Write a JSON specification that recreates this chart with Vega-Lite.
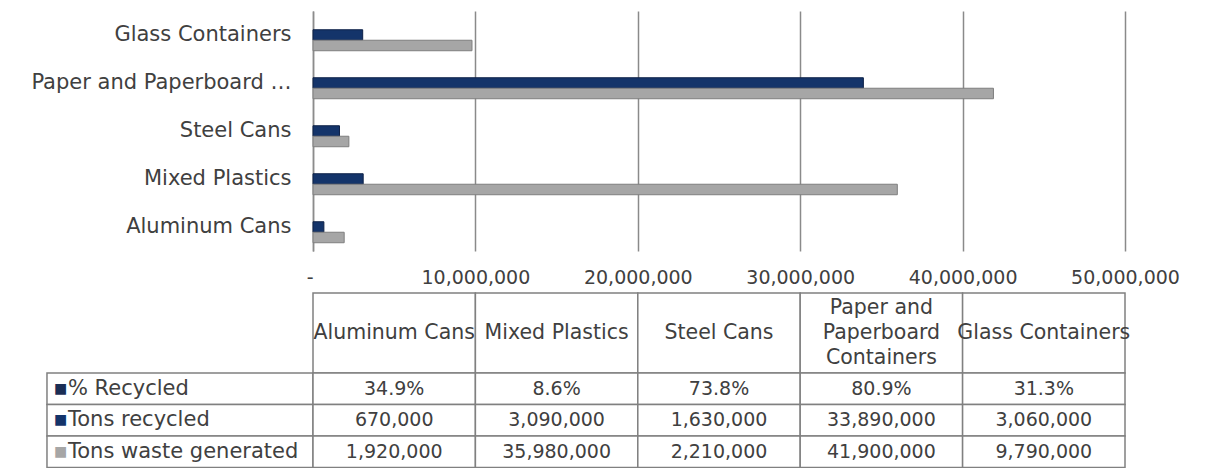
{
  "$schema": "https://vega.github.io/schema/vega-lite/v6.json",
  "padding": {"left": 0, "top": 11, "right": 0, "bottom": 0},
  "config": {
    "view": {"stroke": null},
    "font": "DejaVu Sans",
    "text": {"font": "DejaVu Sans"},
    "axis": {"labelFont": "DejaVu Sans"}
  },
  "datasets": {
    "waste": [
      {"category": "Aluminum Cans", "series": "% Recycled", "value": 0.349},
      {"category": "Aluminum Cans", "series": "Tons recycled", "value": 670000},
      {"category": "Aluminum Cans", "series": "Tons waste generated", "value": 1920000},
      {"category": "Mixed Plastics", "series": "% Recycled", "value": 0.086},
      {"category": "Mixed Plastics", "series": "Tons recycled", "value": 3090000},
      {"category": "Mixed Plastics", "series": "Tons waste generated", "value": 35980000},
      {"category": "Steel Cans", "series": "% Recycled", "value": 0.738},
      {"category": "Steel Cans", "series": "Tons recycled", "value": 1630000},
      {"category": "Steel Cans", "series": "Tons waste generated", "value": 2210000},
      {"category": "Paper and Paperboard Containers", "series": "% Recycled", "value": 0.809},
      {"category": "Paper and Paperboard Containers", "series": "Tons recycled", "value": 33890000},
      {"category": "Paper and Paperboard Containers", "series": "Tons waste generated", "value": 41900000},
      {"category": "Glass Containers", "series": "% Recycled", "value": 0.313},
      {"category": "Glass Containers", "series": "Tons recycled", "value": 3060000},
      {"category": "Glass Containers", "series": "Tons waste generated", "value": 9790000}
    ],
    "headers": [
      {"category": "Aluminum Cans", "header": "Aluminum Cans"},
      {"category": "Mixed Plastics", "header": "Mixed Plastics"},
      {"category": "Steel Cans", "header": "Steel Cans"},
      {"category": "Paper and Paperboard Containers", "header": "Paper and\nPaperboard\nContainers"},
      {"category": "Glass Containers", "header": "Glass Containers"}
    ]
  },
  "columns": 2,
  "spacing": 0,
  "bounds": "flush",
  "concat": [
    {
      "width": 313,
      "height": 282,
      "data": {"name": "headers"},
      "mark": {"type": "text", "text": ""},
      "encoding": {}
    },
    {
      "width": 812,
      "height": 240,
      "data": {"name": "waste"},
      "mark": {"type": "bar", "strokeWidth": 1},
      "encoding": {
        "y": {
          "field": "category",
          "type": "nominal",
          "sort": ["Glass Containers", "Paper and Paperboard Containers", "Steel Cans", "Mixed Plastics", "Aluminum Cans"],
          "scale": {"paddingInner": 0.344, "paddingOuter": 0.172},
          "axis": {
            "title": null,
            "ticks": false,
            "domain": true,
            "domainColor": "#8c8c8c",
            "domainWidth": 1.5,
            "grid": false,
            "labelFontSize": 21,
            "labelColor": "#404040",
            "labelPadding": 22,
            "labelLimit": 262
          }
        },
        "yOffset": {
          "field": "series",
          "type": "nominal",
          "sort": ["% Recycled", "Tons recycled", "Tons waste generated"],
          "scale": {"paddingInner": 0, "paddingOuter": 0}
        },
        "x": {
          "field": "value",
          "type": "quantitative",
          "scale": {"domain": [0, 50000000], "nice": false},
          "axis": {
            "title": null,
            "values": [0, 10000000, 20000000, 30000000, 40000000, 50000000],
            "labelExpr": "datum.value == 0 ? '-' : format(datum.value, ',')",
            "labelAlign": {"condition": {"test": "datum.value == 0", "value": "right"}, "value": "center"},
            "grid": true,
            "gridColor": "#8a8a8a",
            "gridWidth": 1.5,
            "domain": false,
            "ticks": false,
            "labelFontSize": 19,
            "labelColor": "#404040",
            "labelPadding": 17,
            "labelFlush": false,
            "labelOverlap": false,
            "labelBound": false
          }
        },
        "color": {
          "field": "series",
          "type": "nominal",
          "scale": {"domain": ["% Recycled", "Tons recycled", "Tons waste generated"], "range": ["#1b2e55", "#14346a", "#a6a6a6"]},
          "legend": null
        },
        "stroke": {
          "field": "series",
          "type": "nominal",
          "scale": {"domain": ["% Recycled", "Tons recycled", "Tons waste generated"], "range": ["rgba(0,0,0,0)", "#0d2047", "#7f7f7f"]},
          "legend": null
        }
      }
    },
    {
      "width": 313,
      "height": 80,
      "data": {"name": "headers"},
      "mark": {"type": "text", "text": ""},
      "encoding": {}
    },
    {
      "width": 812,
      "height": 80,
      "data": {"name": "headers"},
      "encoding": {
        "x": {
          "field": "category",
          "type": "nominal",
          "sort": ["Aluminum Cans", "Mixed Plastics", "Steel Cans", "Paper and Paperboard Containers", "Glass Containers"],
          "scale": {"paddingInner": 0, "paddingOuter": 0},
          "axis": null
        }
      },
      "layer": [
        {"mark": {"type": "rect", "fill": "white", "stroke": "#808080", "strokeWidth": 1.5}},
        {
          "transform": [{"filter": "datum.category != 'Paper and Paperboard Containers'"}],
          "mark": {"type": "text", "fontSize": 20.5, "color": "#404040"},
          "encoding": {"text": {"field": "header", "type": "nominal"}}
        },
        {
          "transform": [{"filter": "datum.category == 'Paper and Paperboard Containers'"}],
          "mark": {"type": "text", "lineBreak": "\n", "fontSize": 20.5, "color": "#404040", "lineHeight": 25, "dy": -25},
          "encoding": {"text": {"field": "header", "type": "nominal"}}
        }
      ]
    },
    {
      "width": 313,
      "height": 94.5,
      "data": {"name": "waste"},
      "transform": [{"filter": "datum.category == 'Aluminum Cans'"}],
      "encoding": {
        "y": {
          "field": "series",
          "type": "nominal",
          "scale": {"domain": ["% Recycled", "Tons recycled", "Tons waste generated"], "paddingInner": 0, "paddingOuter": 0},
          "axis": null
        }
      },
      "layer": [
        {
          "mark": {"type": "rect", "fill": "white", "stroke": "#808080", "strokeWidth": 1.5},
          "encoding": {
            "x": {"datum": "Series", "type": "nominal", "scale": {"domain": ["Series"], "paddingInner": 0, "paddingOuter": 0.0883, "align": 1}, "axis": null}
          }
        },
        {
          "mark": {"type": "text", "text": "■", "align": "left", "dx": 7, "fontSize": 14},
          "encoding": {
            "x": {"datum": "Series", "type": "nominal", "bandPosition": 0, "axis": null},
            "color": {
              "field": "series",
              "type": "nominal",
              "scale": {"domain": ["% Recycled", "Tons recycled", "Tons waste generated"], "range": ["#1b2e55", "#14346a", "#a6a6a6"]},
              "legend": null
            }
          }
        },
        {
          "mark": {"type": "text", "align": "left", "dx": 21, "fontSize": 21, "color": "#404040"},
          "encoding": {
            "x": {"datum": "Series", "type": "nominal", "bandPosition": 0, "axis": null},
            "text": {"field": "series", "type": "nominal"}
          }
        }
      ]
    },
    {
      "width": 812,
      "height": 94.5,
      "data": {"name": "waste"},
      "encoding": {
        "x": {
          "field": "category",
          "type": "nominal",
          "scale": {"domain": ["Aluminum Cans", "Mixed Plastics", "Steel Cans", "Paper and Paperboard Containers", "Glass Containers"], "paddingInner": 0, "paddingOuter": 0},
          "axis": null
        },
        "y": {
          "field": "series",
          "type": "nominal",
          "scale": {"domain": ["% Recycled", "Tons recycled", "Tons waste generated"], "paddingInner": 0, "paddingOuter": 0},
          "axis": null
        }
      },
      "layer": [
        {"mark": {"type": "rect", "fill": "white", "stroke": "#808080", "strokeWidth": 1.5}},
        {
          "transform": [{"filter": "datum.series == '% Recycled'"}],
          "mark": {"type": "text", "fontSize": 19, "color": "#404040"},
          "encoding": {"text": {"field": "value", "type": "quantitative", "format": ".1%"}}
        },
        {
          "transform": [{"filter": "datum.series != '% Recycled'"}],
          "mark": {"type": "text", "fontSize": 19, "color": "#404040"},
          "encoding": {"text": {"field": "value", "type": "quantitative", "format": ","}}
        }
      ]
    }
  ]
}
